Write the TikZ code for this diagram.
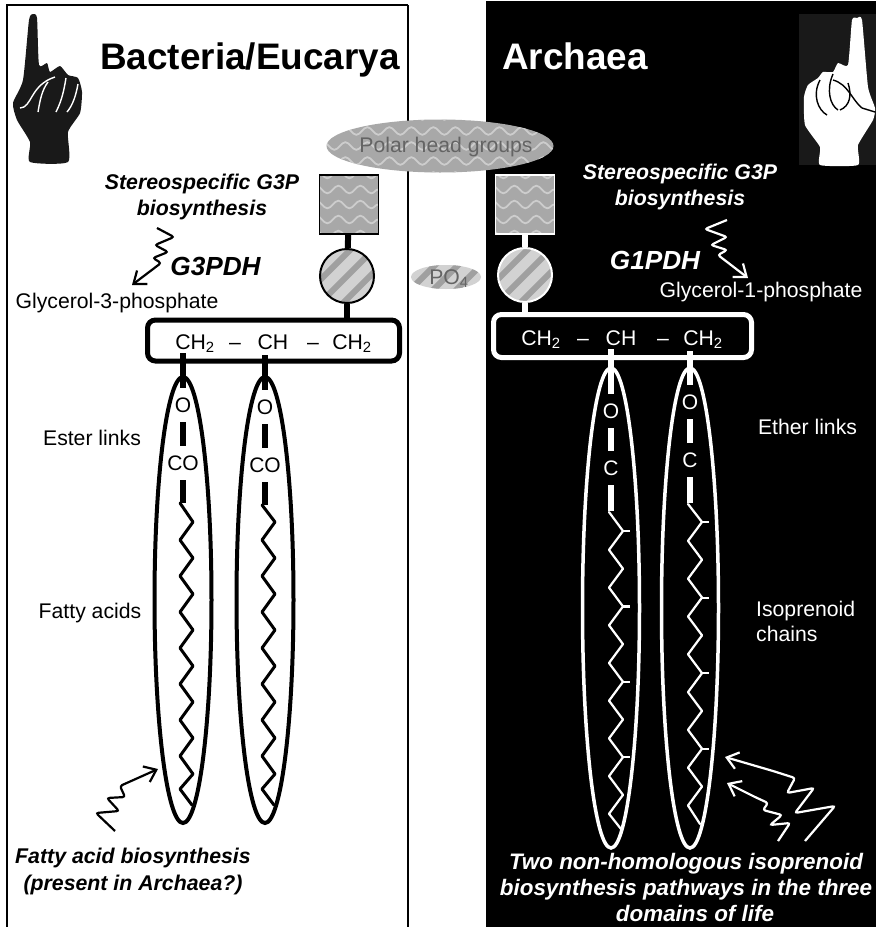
\documentclass[tikz,border=0pt]{standalone}
\usepackage{fontspec}
\setmainfont{Liberation Sans}
\usetikzlibrary{shapes.geometric, arrows.meta, decorations.pathmorphing}
\definecolor{headgrey}{RGB}{168, 168, 168}
\definecolor{waveline}{RGB}{205, 205, 205}
\definecolor{stripegrey}{RGB}{160, 160, 160}
\definecolor{ballgrey}{RGB}{210, 210, 210}
\definecolor{inkgrey}{RGB}{100, 100, 100}
\newcommand{\wavelines}{%
    \foreach \dy in {-45,-30,...,45}
        \draw[waveline, line width=1.8pt, decorate, decoration={snake, amplitude=3.8pt, segment length=22pt}]
            ([yshift=\dy pt, xshift=-10pt]path picture bounding box.west) -- ([yshift=\dy pt, xshift=10pt]path picture bounding box.east);
}
\newcommand{\stripelines}{%
    \foreach \ds in {-46,-23,0,23,46}
        \draw[stripegrey, line width=6pt]
            ([xshift=\ds pt-40pt, yshift=-40pt]path picture bounding box.center) -- ([xshift=\ds pt+40pt, yshift=40pt]path picture bounding box.center);
}
\tikzset{
    plaintext/.style={inner sep=0pt, font=\fontsize{21.2}{25}\selectfont, align=center},
    enzyme/.style={inner sep=0pt, font=\fontsize{#1}{26}\selectfont\bfseries\itshape, align=center},
    titletext/.style={inner sep=0pt, font=\fontsize{36.9}{42}\selectfont\bfseries},
    headbox/.style={rectangle, draw=#1, line width=1.5pt, minimum size=59pt, inner sep=0pt, fill=headgrey, path picture={\wavelines}},
    ballnode/.style={circle, draw=#1, line width=2pt, minimum size=54pt, inner sep=0pt, fill=ballgrey, path picture={\stripelines}},
    backbone/.style={rectangle, draw=#1, line width=5pt, rounded corners=8pt},
    tail/.style={ellipse, draw=#1, inner sep=0pt, minimum width=57pt},
    bond/.style={line width=6pt},
    atom/.style={inner sep=0pt, minimum height=34pt, font=\fontsize{21}{24}\selectfont},
    chain/.style={line join=round, line cap=round},
    squiggle/.style={line width=2.2pt, rounded corners=2.5pt, -{Straight Barb[length=11pt, width=17pt, line width=2.2pt]}},
}
\begin{document}
\begin{tikzpicture}[x=1pt, y=-1pt]
    \useasboundingbox (0,0) rectangle (876,927);
    \fill[white] (0,0) rectangle (876,927);
    \fill[black] (486,1) rectangle (876,927);
    \draw[line width=2pt] (7,927) -- (7,5) -- (408,5);
    \draw[line width=1.2pt] (408,5) -- (408,927);

    % titles
    \node[titletext, anchor=base west] (titleleft) at (100,69) {Bacteria/Eucarya};
    \node[titletext, anchor=base west, text=white] (titleright) at (502,69) {Archaea};

    % hands
    \fill[black!90] plot[smooth cycle, tension=0.35] coordinates {(23,80) (29,20) (33,14) (37,18) (39,65) (47,63) (50,72) (60,66) (68,75) (78,78) (82,92) (80,113) (68,132) (68,162) (30,162) (30,142) (17,120) (13,103)};
    \draw[white, line width=1.4pt] (20,108) .. controls (32,108) and (30,85) .. (55,77);
    \draw[white, line width=1.4pt] (38,112) .. controls (40,100) and (42,90) .. (48,82);
    \draw[white, line width=1.4pt] (56,112) .. controls (62,100) and (64,90) .. (66,78);
    \draw[white, line width=1.4pt] (67,112) .. controls (73,105) and (76,95) .. (78,84);
    \fill[black!90] (799,14) rectangle (876,165);
    \fill[white] plot[smooth cycle, tension=0.3] coordinates {(852,20) (857,18) (862,20) (868,87) (875,108) (873,120) (858,145) (858,165) (820,165) (820,147) (805,125) (804,97) (808,85) (818,78) (823,72) (833,72) (838,63) (848,65)};
    \draw[black, line width=1.4pt] (833,80) .. controls (848,84) and (852,100) .. (862,108) -- (875,112);
    \draw[black, line width=1.4pt] (820,80) .. controls (812,95) and (818,110) .. (827,115);
    \draw[black, line width=1.4pt] (833,74) .. controls (826,90) and (830,105) .. (838,110);
    \draw[black, line width=1.4pt] (848,83) .. controls (852,95) and (850,106) .. (840,110);

    % polar head groups and phosphate
    \node[ellipse, fill=headgrey, minimum width=227pt, minimum height=53pt, inner sep=0pt, path picture={\wavelines}] (polar) at (440,146) {};
    \node[plaintext, text=inkgrey] (polartext) at (446,147) {Polar head groups};
    \node[ellipse, fill=ballgrey, minimum width=70pt, minimum height=24pt, inner sep=0pt, path picture={\stripelines}] (phosphate) at (446,277) {};
    \node[plaintext, text=inkgrey] (phosphatetext) at (449,279) {PO\textsubscript{4}};

    % glycerol backbones with head and ball
    \node[headbox=black] (headleft) at (349,204.5) {};
    \node[ballnode=black] (ballleft) at (347,276) {};
    \node[backbone=black, minimum width=252pt, minimum height=41pt] (boxleft) at (273.5,340.5) {};
    \draw[bond, black] (headleft) -- (ballleft);
    \draw[bond, black] (ballleft) -- (ballleft |- boxleft.north);
    \node[headbox=white] (headright) at (525,204.5) {};
    \node[ballnode=white] (ballright) at (525,275) {};
    \node[backbone=white, minimum width=258pt, minimum height=43pt] (boxright) at (622.5,336) {};
    \draw[bond, white] (headright) -- (ballright);
    \draw[bond, white] (ballright) -- (ballright |- boxright.north);

    \foreach \tx/\tname/\ttext in {195/cha/CH\textsubscript{2}, 235/dasha/--, 273/chb/CH, 313/dashb/--, 352/chc/CH\textsubscript{2}}
        \node[plaintext, anchor=base] (\tname) at (\tx,349) {\ttext};
    \foreach \tx/\tname/\ttext in {541/chd/CH\textsubscript{2}, 583/dashc/--, 621/che/CH, 663/dashd/--, 703/chf/CH\textsubscript{2}}
        \node[plaintext, text=white, anchor=base] (\tname) at (\tx,345) {\ttext};

    % fatty acid tails
    \foreach \cx/\dy/\tname in {183/0/a, 265/2/b} {
        \node[tail=black, line width=4pt, minimum height=446pt] (oval\tname) at (\cx,600) {};
        \coordinate (stem\tname) at (\cx,353+\dy);
        \node[atom] (oxy\tname) at (\cx,405+\dy) {O};
        \node[atom] (carb\tname) at (\cx,463+\dy) {CO};
        \coordinate (zig\tname) at (\cx,503+\dy);
        \draw[bond] (stem\tname) -- (oxy\tname);
        \draw[bond] (oxy\tname) -- (carb\tname);
        \draw[bond] (carb\tname) -- (zig\tname);
        \draw[chain, line width=3pt] (\cx-3,503+\dy) -- (\cx+10,522);
        \foreach \k in {0,...,6}
            \draw[chain, line width=3pt] (\cx+10,522+36*\k) -- (\cx-3,540+36*\k) -- (\cx+10,558+36*\k);
        \draw[chain, line width=3pt] (\cx+10,774) -- (\cx-3,789) -- (\cx+9,805);
    }

    % isoprenoid tails
    \foreach \cx/\top/\tname/\oy/\cy/\ya/\yb/\ys/\ye/\pd in {611/349/c/411/468/511/512/531/829/37.7, 690/351/d/402/460/503/504/522/824/37.8} {
        \node[tail=white, line width=3.5pt, minimum height=480pt] (oval\tname) at (\cx,608) {};
        \coordinate (stem\tname) at (\cx,\top);
        \node[atom, text=white] (oxy\tname) at (\cx,\oy) {O};
        \node[atom, text=white] (carb\tname) at (\cx,\cy) {C};
        \coordinate (zig\tname) at (\cx,\ya);
        \draw[bond, white] (stem\tname) -- (oxy\tname);
        \draw[bond, white] (oxy\tname) -- (carb\tname);
        \draw[bond, white] (carb\tname) -- (zig\tname);
        \draw[chain, white, line width=2.2pt] (\cx-2,\yb) -- (\cx+12,\ys);
        \foreach \k in {0,...,6}
            \draw[chain, white, line width=2.2pt] (\cx+12,\ys+\pd*\k) -- (\cx-2,\ys+\pd*\k+18.9) -- (\cx+12,\ys+\pd*\k+37.7);
        \draw[chain, white, line width=2.2pt] (\cx+12,\ys+\pd*7) -- (\cx-2,\ys+\pd*7+18.9) -- (\cx+10,\ye);
        \foreach \k in {0,2,4,6}
            \draw[white, line width=2.2pt] (\cx+12,\ys+\pd*\k) -- (\cx+19,\ys+\pd*\k);
    }

    % side labels
    \node[enzyme=21.3] (synthleft) at (202,197) {Stereospecific G3P\\biosynthesis};
    \node[enzyme=26.2] (gleft) at (215.5,266) {G3PDH};
    \node[plaintext] (glyleft) at (117,303) {Glycerol-3-phosphate};
    \node[enzyme=21.3, text=white] (synthright) at (680,187) {Stereospecific G3P\\biosynthesis};
    \node[enzyme=26.2, text=white] (gright) at (655,260) {G1PDH};
    \node[plaintext, text=white] (glyright) at (761,292) {Glycerol-1-phosphate};
    \node[plaintext] (esterlabel) at (92,438) {Ester links};
    \node[plaintext] (fattylabel) at (90,613) {Fatty acids};
    \node[plaintext, text=white] (etherlabel) at (807.5,427) {Ether links};
    \node[plaintext, text=white, align=left, anchor=west] (isolabel) at (756,621) {Isoprenoid\\chains};
    \node[enzyme=21.3, font=\fontsize{21.3}{27}\selectfont\bfseries\itshape] (fattysynth) at (133,871) {Fatty acid biosynthesis\\(present in Archaea?)};
    \node[enzyme=22.4, text=white] (twopaths) at (686,887) {Two non-homologous isoprenoid\\biosynthesis pathways in the three\\\hspace*{18pt}domains of life};

    % wavy arrows
    \coordinate (waveleft) at (157,228);
    \coordinate (tipleft) at (132,285);
    \draw[squiggle] (waveleft) -- (174,237) -- (155,245) -- (168,252) -- (153,258) -- (161,263) -- (tipleft);
    \coordinate (waveright) at (727,220);
    \coordinate (tipright) at (748,278);
    \draw[squiggle, white] (waveright) -- (705,229) -- (727,237) -- (711,245) -- (727,250) -- (718,255) -- (tipright);
    \coordinate (wavefatty) at (115,831);
    \coordinate (tipfatty) at (158,769);
    \draw[squiggle] (wavefatty) -- (96,813) -- (119,811) -- (107,798) -- (125,797) -- (120,786) -- (tipfatty);
    \coordinate (waveisoa) at (805,841);
    \coordinate (tipisoa) at (725,757);
    \draw[squiggle, white] (waveisoa) -- (835,806) -- (795,813) -- (814,788) -- (787,793) -- (795,778) -- (773,771) -- (tipisoa);
    \coordinate (waveisob) at (778,841);
    \coordinate (tipisob) at (727,783);
    \draw[squiggle, white] (waveisob) -- (790,823) -- (770,825) -- (782,815) -- (763,810) -- (768,803) -- (755,797) -- (tipisob);
\end{tikzpicture}
\end{document}
